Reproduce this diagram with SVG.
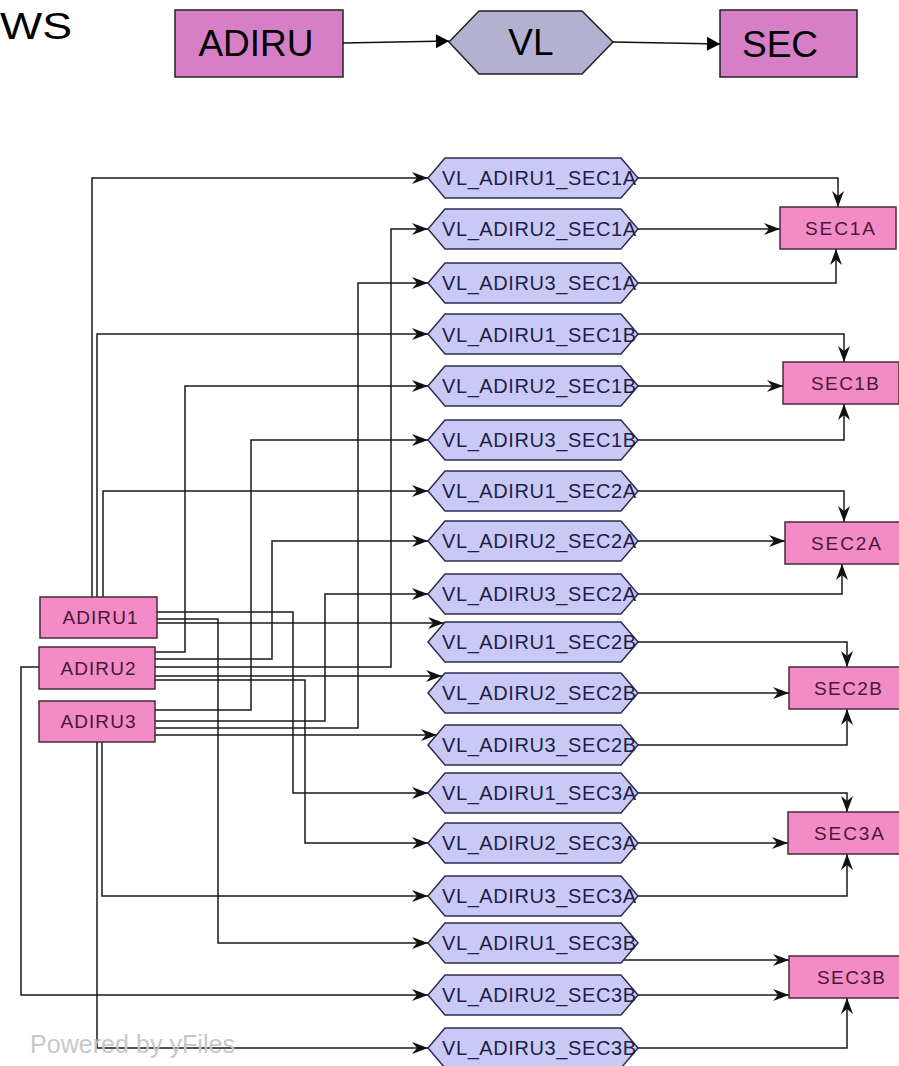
<svg xmlns="http://www.w3.org/2000/svg" xmlns:xlink="http://www.w3.org/1999/xlink" width="899" height="1066" viewBox="0 0 899 1066">
<style>
  .lg { font-family: "Liberation Sans", Arial, sans-serif; font-size: 37px; fill: #000; }
  .lgbox { fill: #d77fc6; stroke: #222; stroke-width: 1.5; }
  .lghex { fill: #b2b2d0; stroke: #222; stroke-width: 1.5; }
  .lgline { stroke: #111; stroke-width: 1.5; fill: none; }
  .box { fill: #f28bc6; stroke: #4a2a3a; stroke-width: 1.5; }
  .hex { fill: #c9c9f6; stroke: #2e2e4e; stroke-width: 1.5; }
  .nt { font-family: "Liberation Sans", Arial, sans-serif; font-size: 19px; fill: #4a1838; text-anchor: middle; }
  .vt { font-family: "Liberation Sans", Arial, sans-serif; font-size: 20px; fill: #1e1e4a; }
  .e { stroke: #1a1a1a; stroke-width: 1.5; fill: none; marker-end: url(#ah); }
  .wm { font-family: "Liberation Sans", Arial, sans-serif; font-size: 25px; fill: #c8c8c8; }
</style>
<defs>
  <marker id="ah" viewBox="-17 -7 18 14" refX="0" refY="0" markerWidth="18" markerHeight="14" markerUnits="userSpaceOnUse" orient="auto">
    <path d="M0,0 L-16,-6 L-11,0 L-16,6 Z" fill="#111"/>
  </marker>
  <marker id="lah" viewBox="-14 -8 15 16" refX="0" refY="0" markerWidth="15" markerHeight="16" markerUnits="userSpaceOnUse" orient="auto">
    <path d="M0,0 L-13,-7 L-13,7 Z" fill="#000"/>
  </marker>
  <polygon id="hexshape" points="0,0 17,-20 193,-20 210,0 193,20 17,20"/>
</defs>
<rect width="899" height="1066" fill="#fff"/>

<g id="legend">
  <text class="lg" x="0" y="39" font-size="35" textLength="72" lengthAdjust="spacingAndGlyphs">WS</text>
  <g id="legend-adiru">
    <rect class="lgbox" x="175" y="10" width="168" height="67"/>
    <text class="lg" x="256" y="56" text-anchor="middle">ADIRU</text>
  </g>
  <g id="legend-vl">
    <polygon class="lghex" points="449,42 479,11 582,11 613,42 582,74 479,74"/>
    <text class="lg" x="531" y="55" text-anchor="middle">VL</text>
  </g>
  <g id="legend-sec">
    <rect class="lgbox" x="720" y="10" width="137" height="67"/>
    <text class="lg" x="780" y="57" text-anchor="middle">SEC</text>
  </g>
  <g id="legend-connectors">
    <path class="lgline" d="M343,43 L449,41" marker-end="url(#lah)"/>
    <path class="lgline" d="M613,42 L720,44" marker-end="url(#lah)"/>
  </g>
</g>

<g id="connectors">
  <!-- ADIRU to VL -->
  <path class="e" d="M92,597 V178 H428"/>
  <path class="e" d="M155,667 H391 V229 H428"/>
  <path class="e" d="M155,728 H358 V283 H428"/>
  <path class="e" d="M97,597 V334 H428"/>
  <path class="e" d="M155,652 H185 V386 H428"/>
  <path class="e" d="M155,710 H251 V440 H428"/>
  <path class="e" d="M103,597 V491 H428"/>
  <path class="e" d="M155,659 H272 V541 H428"/>
  <path class="e" d="M155,721 H325 V594 H428"/>
  <path class="e" d="M157,623 H444"/>
  <path class="e" d="M155,676 H442"/>
  <path class="e" d="M155,735 H437"/>
  <path class="e" d="M157,612 H293 V793 H428"/>
  <path class="e" d="M155,680 H305 V843 H428"/>
  <path class="e" d="M102,742 V896 H428"/>
  <path class="e" d="M157,619 H218 V943 H428"/>
  <path class="e" d="M39,667 H21 V995 H428"/>
  <path class="e" d="M97,742 V1048 H428"/>
  <!-- VL to SEC -->
  <path class="e" d="M638,178 H838 V207"/>
  <path class="e" d="M638,229 H780"/>
  <path class="e" d="M638,283 H836 V249"/>
  <path class="e" d="M638,334 H844 V362"/>
  <path class="e" d="M638,386 H783"/>
  <path class="e" d="M638,440 H844 V404"/>
  <path class="e" d="M638,491 H844 V522"/>
  <path class="e" d="M638,541 H785"/>
  <path class="e" d="M638,594 H842 V564"/>
  <path class="e" d="M638,642 H847 V667"/>
  <path class="e" d="M638,693 H789"/>
  <path class="e" d="M638,745 H847 V709"/>
  <path class="e" d="M638,793 H847 V812"/>
  <path class="e" d="M638,843 H788"/>
  <path class="e" d="M638,896 H847 V854"/>
  <path class="e" d="M623,960 H789"/>
  <path class="e" d="M638,995 H789"/>
  <path class="e" d="M638,1048 H847 V998"/>
</g>

<g id="ADIRU1"><rect class="box" x="40" y="597" width="117" height="41"/><text class="nt" x="100" y="624" textLength="75">ADIRU1</text></g>
<g id="ADIRU2"><rect class="box" x="39" y="647" width="116" height="42"/><text class="nt" x="98" y="675" textLength="75">ADIRU2</text></g>
<g id="ADIRU3"><rect class="box" x="39" y="701" width="116" height="41"/><text class="nt" x="98" y="728" textLength="75">ADIRU3</text></g>

<g id="VL_ADIRU1_SEC1A"><use xlink:href="#hexshape" class="hex" x="428" y="178"/><text class="vt" x="442" y="185" textLength="194">VL_ADIRU1_SEC1A</text></g>
<g id="VL_ADIRU2_SEC1A"><use xlink:href="#hexshape" class="hex" x="428" y="229"/><text class="vt" x="442" y="236" textLength="194">VL_ADIRU2_SEC1A</text></g>
<g id="VL_ADIRU3_SEC1A"><use xlink:href="#hexshape" class="hex" x="428" y="283"/><text class="vt" x="442" y="290" textLength="194">VL_ADIRU3_SEC1A</text></g>
<g id="VL_ADIRU1_SEC1B"><use xlink:href="#hexshape" class="hex" x="428" y="334"/><text class="vt" x="442" y="342" textLength="194">VL_ADIRU1_SEC1B</text></g>
<g id="VL_ADIRU2_SEC1B"><use xlink:href="#hexshape" class="hex" x="428" y="386"/><text class="vt" x="442" y="393" textLength="194">VL_ADIRU2_SEC1B</text></g>
<g id="VL_ADIRU3_SEC1B"><use xlink:href="#hexshape" class="hex" x="428" y="440"/><text class="vt" x="442" y="447" textLength="194">VL_ADIRU3_SEC1B</text></g>
<g id="VL_ADIRU1_SEC2A"><use xlink:href="#hexshape" class="hex" x="428" y="491"/><text class="vt" x="442" y="498" textLength="194">VL_ADIRU1_SEC2A</text></g>
<g id="VL_ADIRU2_SEC2A"><use xlink:href="#hexshape" class="hex" x="428" y="541"/><text class="vt" x="442" y="548" textLength="194">VL_ADIRU2_SEC2A</text></g>
<g id="VL_ADIRU3_SEC2A"><use xlink:href="#hexshape" class="hex" x="428" y="594"/><text class="vt" x="442" y="601" textLength="194">VL_ADIRU3_SEC2A</text></g>
<g id="VL_ADIRU1_SEC2B"><use xlink:href="#hexshape" class="hex" x="428" y="642"/><text class="vt" x="442" y="649" textLength="194">VL_ADIRU1_SEC2B</text></g>
<g id="VL_ADIRU2_SEC2B"><use xlink:href="#hexshape" class="hex" x="428" y="693"/><text class="vt" x="442" y="700" textLength="194">VL_ADIRU2_SEC2B</text></g>
<g id="VL_ADIRU3_SEC2B"><use xlink:href="#hexshape" class="hex" x="428" y="745"/><text class="vt" x="442" y="752" textLength="194">VL_ADIRU3_SEC2B</text></g>
<g id="VL_ADIRU1_SEC3A"><use xlink:href="#hexshape" class="hex" x="428" y="793"/><text class="vt" x="442" y="800" textLength="194">VL_ADIRU1_SEC3A</text></g>
<g id="VL_ADIRU2_SEC3A"><use xlink:href="#hexshape" class="hex" x="428" y="843"/><text class="vt" x="442" y="850" textLength="194">VL_ADIRU2_SEC3A</text></g>
<g id="VL_ADIRU3_SEC3A"><use xlink:href="#hexshape" class="hex" x="428" y="896"/><text class="vt" x="442" y="903" textLength="194">VL_ADIRU3_SEC3A</text></g>
<g id="VL_ADIRU1_SEC3B"><use xlink:href="#hexshape" class="hex" x="428" y="943"/><text class="vt" x="442" y="950" textLength="194">VL_ADIRU1_SEC3B</text></g>
<g id="VL_ADIRU2_SEC3B"><use xlink:href="#hexshape" class="hex" x="428" y="995"/><text class="vt" x="442" y="1002" textLength="194">VL_ADIRU2_SEC3B</text></g>
<g id="VL_ADIRU3_SEC3B"><use xlink:href="#hexshape" class="hex" x="428" y="1048"/><text class="vt" x="442" y="1055" textLength="194">VL_ADIRU3_SEC3B</text></g>

<g id="SEC1A"><rect class="box" x="780" y="207" width="116" height="42"/><text class="nt" x="840" y="235" textLength="70">SEC1A</text></g>
<g id="SEC1B"><rect class="box" x="783" y="362" width="116" height="42"/><text class="nt" x="845" y="390" textLength="68">SEC1B</text></g>
<g id="SEC2A"><rect class="box" x="785" y="522" width="116" height="42"/><text class="nt" x="846" y="550" textLength="70">SEC2A</text></g>
<g id="SEC2B"><rect class="box" x="789" y="667" width="116" height="42"/><text class="nt" x="848" y="695" textLength="68">SEC2B</text></g>
<g id="SEC3A"><rect class="box" x="788" y="812" width="116" height="42"/><text class="nt" x="849" y="840" textLength="70">SEC3A</text></g>
<g id="SEC3B"><rect class="box" x="789" y="956" width="116" height="42"/><text class="nt" x="851" y="984" textLength="68">SEC3B</text></g>

<text class="wm" x="30" y="1053" textLength="205">Powered by yFiles</text>
</svg>
